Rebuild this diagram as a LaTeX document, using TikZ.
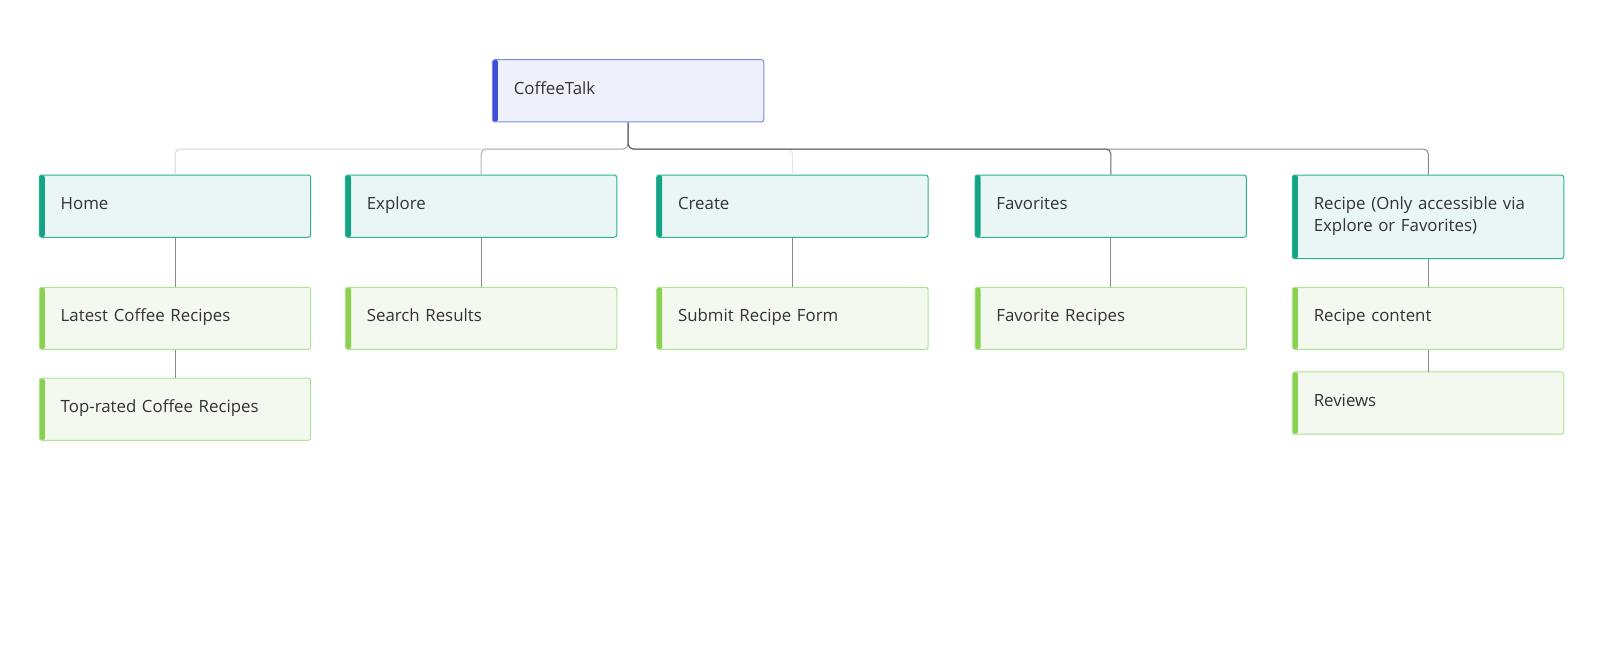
\documentclass[tikz,border=0pt]{standalone}
\usepackage{fontspec}
\setmainfont{Open Sans}
\definecolor{txt}{HTML}{333333}
\definecolor{rootfill}{HTML}{EEF1FB}
\definecolor{rootdraw}{HTML}{7F8AE6}
\definecolor{rootbar}{HTML}{3D4FD8}
\definecolor{lonefill}{HTML}{EAF6F3}
\definecolor{lonedraw}{HTML}{2BB394}
\definecolor{lonebar}{HTML}{14A385}
\definecolor{ltwofill}{HTML}{F3F9EF}
\definecolor{ltwodraw}{HTML}{AFE296}
\definecolor{ltwobar}{HTML}{8BD150}
\definecolor{cvlight}{HTML}{E6E6E6}
\definecolor{chlight}{HTML}{D6D6D6}
\definecolor{cmid}{HTML}{B2B2B2}
\definecolor{cgray}{HTML}{8C8C8C}
\definecolor{cdark}{HTML}{646464}
\begin{document}
\begin{tikzpicture}[x=1pt,y=-1pt,scale=1.020408,
  boxbase/.style={transform shape, anchor=north west, rounded corners=2.5pt, line width=1pt,
    minimum width=266pt, minimum height=61pt, inner xsep=21pt, inner ysep=0pt,
    text width=224pt, align=left, text=txt,
    font=\fontsize{16.5pt}{21pt}\selectfont,
    execute at begin node={\rule[-7pt]{0pt}{21pt}},
    execute at end node={\rule[-7pt]{0pt}{21pt}}},
  rootbox/.style={boxbase, fill=rootfill, draw=rootdraw,
    path picture={\fill[rootbar] (path picture bounding box.north west) rectangle ([xshift=5.5pt]path picture bounding box.south west);}},
  onebox/.style={boxbase, fill=lonefill, draw=lonedraw,
    path picture={\fill[lonebar] (path picture bounding box.north west) rectangle ([xshift=5.5pt]path picture bounding box.south west);}},
  twobox/.style={boxbase, fill=ltwofill, draw=ltwodraw,
    path picture={\fill[ltwobar] (path picture bounding box.north west) rectangle ([xshift=5.5pt]path picture bounding box.south west);}},
  conn/.style={line width=1pt, rounded corners=5pt},
]
\useasboundingbox (0,0) rectangle (1568,647.8);

\node[rootbox] (root) at (482,58) {CoffeeTalk};

\node[onebox] (home) at (38,171) {Home};
\node[onebox] (explore) at (338,171) {Explore};
\node[onebox] (create) at (643,171) {Create};
\node[onebox] (fav) at (955,171) {Favorites};
\node[onebox, minimum height=82pt] (recipe) at (1266,171) {Recipe (Only accessible via\\Explore or Favorites)};

\node[twobox] (latest) at (38,281) {Latest Coffee Recipes};
\node[twobox] (top) at (38,370) {Top-rated Coffee Recipes};
\node[twobox] (search) at (338,281) {Search Results};
\node[twobox] (submit) at (643,281) {Submit Recipe Form};
\node[twobox] (favrec) at (955,281) {Favorite Recipes};
\node[twobox] (content) at (1266,281) {Recipe content};
\node[twobox] (reviews) at (1266,364) {Reviews};

% root to level 1
\draw[conn, cvlight] (root.south) |- ++(0,26) -| (create.north);
\draw[conn, chlight] (root.south) |- ++(0,26) -| (home.north);
\draw[conn, cmid] (root.south) |- ++(0,26) -| (explore.north);
\draw[conn, cgray] (root.south) |- ++(0,26) -| (recipe.north);
\draw[conn, cdark] (root.south) |- ++(0,26) -| (fav.north);

% level 1 to level 2
\draw[conn, cgray] (home.south) -- (latest.north);
\draw[conn, cgray] (latest.south) -- (top.north);
\draw[conn, cgray] (explore.south) -- (search.north);
\draw[conn, cgray] (create.south) -- (submit.north);
\draw[conn, cgray] (fav.south) -- (favrec.north);
\draw[conn, cgray] (recipe.south) -- (content.north);
\draw[conn, cgray] (content.south) -- (reviews.north);
\end{tikzpicture}
\end{document}
